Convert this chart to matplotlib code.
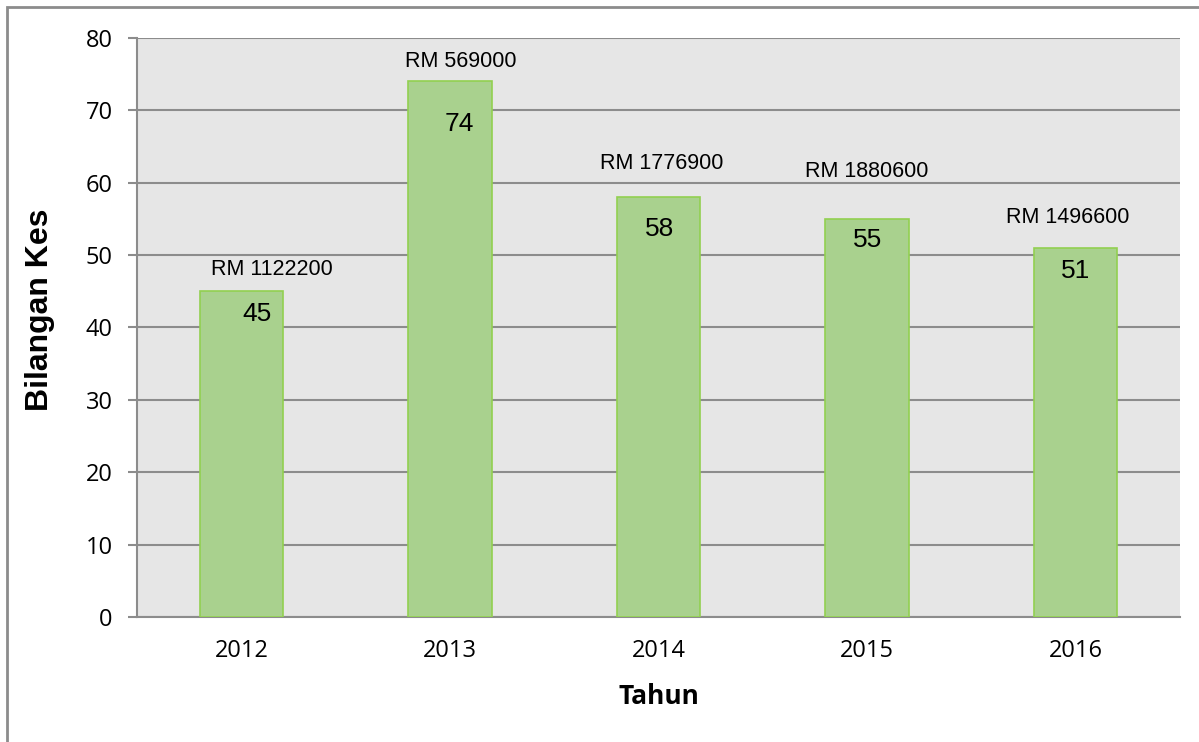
import matplotlib.pyplot as plt
from matplotlib.patches import Rectangle

years = ["2012", "2013", "2014", "2015", "2016"]
cases = [45, 74, 58, 55, 51]
amounts = ["RM 1122200", "RM 569000", "RM 1776900", "RM 1880600", "RM 1496600"]

# small nudges (points) for the labels
value_dx = [11.5, 7, 1, 0, 0]
value_dy = [-16, -31, -23, -15, -17]
amount_dx = [22, 8, 2, 0, -6]
amount_dy = [16, 14, 24, 34, 22]

fig = plt.figure(figsize=(11.99, 7.42), dpi=100)
ax = fig.add_axes([0.1143, 0.1685, 0.8699, 0.7803])

# outer chart frame
fig.patches.append(Rectangle((7 / 1199, -0.1), 1.2, 1.1 - 8 / 742 + 0.001,
                             transform=fig.transFigure, fill=False,
                             edgecolor="#8c8c8c", linewidth=2))

ax.set_facecolor("#e6e6e6")
x = range(len(years))
bars = ax.bar(x, cases, width=0.4, color="#a9d18e", edgecolor="#92d050",
              linewidth=1.2, zorder=3)

for i, (b, v) in enumerate(zip(bars, cases)):
    cx = b.get_x() + b.get_width() / 2
    ax.annotate(str(v), (cx, v), xytext=(value_dx[i], value_dy[i]),
                textcoords="offset points", ha="center", va="center",
                fontsize=19, family="Liberation Sans", zorder=4)
    ax.annotate(amounts[i], (cx, v), xytext=(amount_dx[i], amount_dy[i]),
                textcoords="offset points", ha="center", va="center",
                fontsize=15.5, family="Liberation Sans", zorder=4)

ax.set_xlim(-0.5, len(years) - 0.5)
ax.set_ylim(0, 80)
ax.set_yticks(range(0, 81, 10))
ax.set_xticks(list(x))
ax.set_xticklabels(years)
ax.yaxis.grid(True, color="#8c8c8c", linewidth=1.5)
ax.set_axisbelow(True)

for side in ["top", "right"]:
    ax.spines[side].set_visible(False)
for side in ["left", "bottom"]:
    ax.spines[side].set_color("#8c8c8c")
    ax.spines[side].set_linewidth(1.5)

ax.tick_params(axis="y", length=6.5, width=1.5, color="#8c8c8c", pad=11,
               labelsize=17)
ax.tick_params(axis="x", length=0, pad=16, labelsize=17)
for lab in ax.get_xticklabels() + ax.get_yticklabels():
    lab.set_family("Open Sans")

ax.set_ylabel("Bilangan Kes", fontsize=23, fontweight="bold",
              family="Liberation Sans")
ax.yaxis.set_label_coords(-0.079, 0.53)
ax.set_xlabel("Tahun", fontsize=19, fontweight="bold", family="Open Sans",
              labelpad=14)

fig.savefig("out.png", dpi=100)
